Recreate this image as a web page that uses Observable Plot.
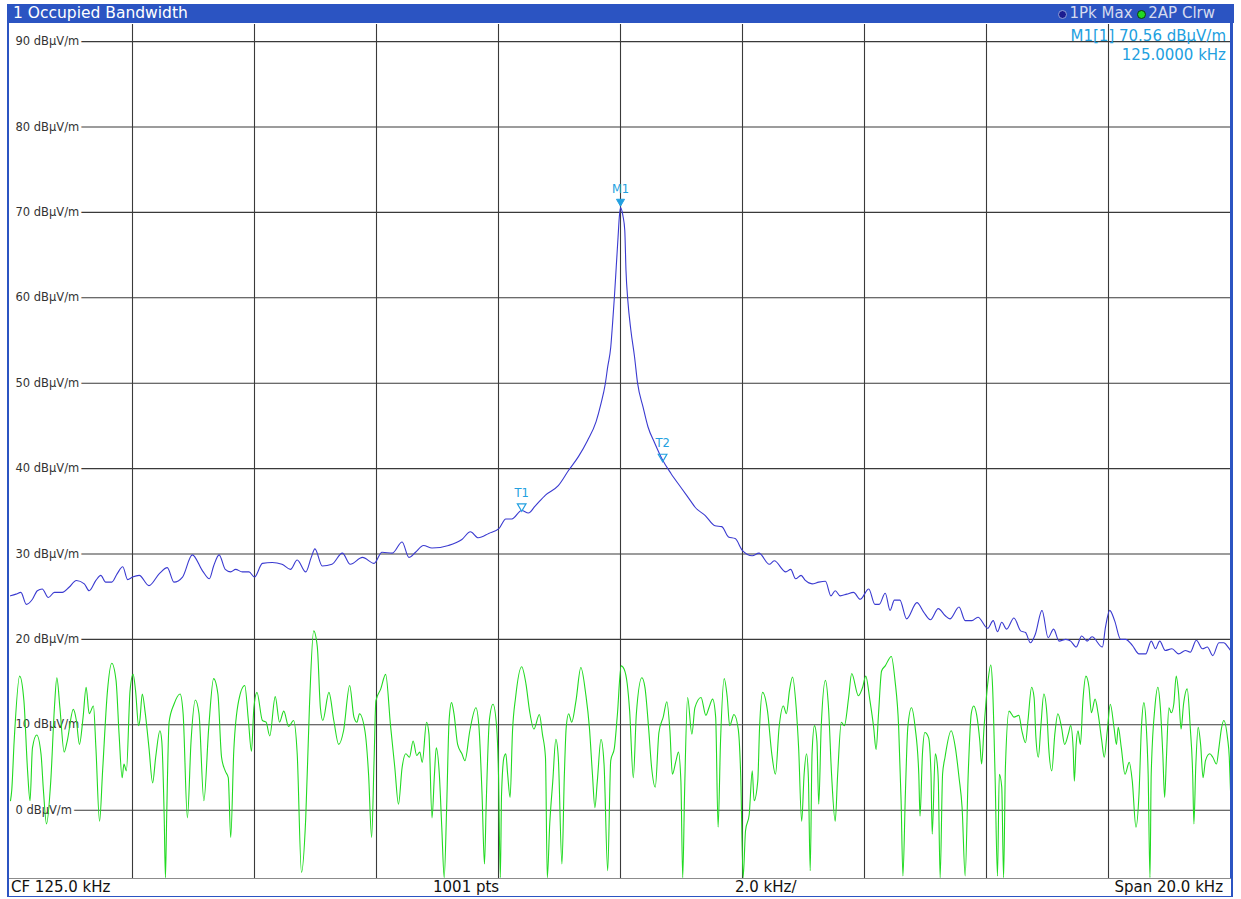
<!DOCTYPE html>
<html>
<head>
<meta charset="utf-8">
<script src="https://cdn.jsdelivr.net/npm/d3@7"></script>
<script src="https://cdn.jsdelivr.net/npm/@observablehq/plot@0.6"></script>
<style>
  html, body { margin: 0; padding: 0; background: #fff; }
  body { font-family: "DejaVu Sans", Verdana, sans-serif; }
  #page { position: relative; width: 1241px; height: 899px; overflow: hidden; background: #fff; }
  #frame { position: absolute; left: 7px; top: 4px; width: 1226px; height: 893px; box-sizing: border-box;
           border: 2px solid #2b54c2; border-right-width: 3px; }
  #titlebar { position: absolute; left: 7px; top: 4px; width: 1227px; height: 19px; background: #2b54c2; }
  #title { position: absolute; left: 6px; top: 0; line-height: 19px; font-size: 15.5px; color: #fff; white-space: nowrap; }
  #legend { position: absolute; right: 19px; top: 0; line-height: 19px; font-size: 15px; color: #d6dbef; white-space: nowrap; }
  .ldot { display: inline-block; width: 9px; height: 9px; border-radius: 50%; box-sizing: border-box; vertical-align: -1px; margin-right: 2px; }
  #plot { position: absolute; left: 10px; top: 24px; width: 1220px; height: 854px; }
  #plot svg { display: block; }
  .mk { position: absolute; right: 15px; font-size: 15px; color: #22a0e0; white-space: nowrap; line-height: 18px; }
  #bottombar { position: absolute; left: 9px; top: 878px; width: 1222px; height: 17px; border-top: 1px solid #8c8c8c; background: #fff; }
  .bt { position: absolute; top: 0; line-height: 17px; font-size: 15px; color: #111; white-space: nowrap; }
</style>
</head>
<body>
<div id="page">
  <div id="frame"></div>
  <div id="titlebar">
    <div id="title">1 Occupied Bandwidth</div>
    <div id="legend"><span class="ldot" style="background:#1c1c90;border:1px solid #8fa0d8"></span>1Pk Max <span class="ldot" style="background:#22d822;border:1px solid #0c3a0c"></span>2AP Clrw</div>
  </div>
  <div id="plot"></div>
  <div class="mk" style="top:27px">M1[1] 70.56 dBµV/m</div>
  <div class="mk" style="top:46px">125.0000 kHz</div>
  <div id="bottombar">
    <div class="bt" style="left:2px">CF 125.0 kHz</div>
    <div class="bt" style="left:424px">1001 pts</div>
    <div class="bt" style="left:726px">2.0 kHz/</div>
    <div class="bt" style="right:8px">Span 20.0 kHz</div>
  </div>
</div>
<script>
// ---- axis / grid ----
const yTicks = [0, 10, 20, 30, 40, 50, 60, 70, 80, 90];
const xGrid = [117, 119, 121, 123, 125, 127, 129, 131, 133];
const xDomain = [115, 135];
const yDomain = [-8, 92];

// ---- markers ----
const markerNames = ["M1", "T1", "T2"];
const markerFreq = [125.0, 123.38, 125.69];
const markerLevel = [70.56, 35.0, 40.8];

// ---- trace 1: Pk Max (blue), kHz / dBµV/m ----
const blueFreq = [
  115.00,115.09,115.17,115.26,115.36,115.44,115.52,115.62,115.72,115.85,115.96,116.08,116.21,116.29,116.40,116.48,
  116.56,116.66,116.75,116.84,116.92,117.00,117.11,117.27,117.44,117.57,117.68,117.82,117.98,118.15,118.26,
  118.33,118.42,118.52,118.61,118.69,118.80,118.91,119.00,119.13,119.29,119.45,119.59,119.70,119.84,119.93,119.99,
  120.11,120.27,120.44,120.57,120.77,120.96,121.09,121.26,121.42,121.53,121.64,
  121.77,121.91,122.18,122.40,122.54,122.67,122.84,123.01,123.12,123.22,123.38,123.49,123.60,123.77,123.98,124.15,124.31,
  124.46,124.60,124.68,124.75,124.79,124.84,124.87,124.90,124.93,124.96,124.98,125.00,125.04,125.07,125.09,125.12,
  125.17,125.23,125.28,125.37,125.45,125.56,125.69,125.83,126.00,126.16,
  126.22,126.39,126.55,126.66,126.77,126.88,
  127.00,127.16,127.27,127.44,127.52,127.71,127.79,127.87,127.96,
  128.03,128.14,128.25,128.36,128.45,128.52,128.60,128.71,128.82,128.93,129.07,129.17,129.24,129.34,129.42,129.49,
  129.58,129.69,129.86,129.97,130.08,130.21,130.32,130.40,130.55,130.65,130.76,130.86,131.02,131.11,131.18,131.25,131.33,
  131.45,131.56,131.64,131.72,131.80,131.91,132.01,132.10,132.19,132.30,132.38,132.47,132.56,132.65,132.73,132.90,
  132.95,133.02,133.10,133.20,133.28,133.39,133.50,133.61,133.70,133.77,133.84,133.93,134.04,134.15,134.26,134.34,
  134.44,134.54,134.62,134.71,134.81,134.89,134.96,135.00
];
const blueLevel = [
  25.1,25.3,25.5,24.1,24.7,25.7,25.9,24.9,25.5,25.5,26.1,26.9,26.5,25.7,26.9,27.5,
  26.7,26.7,27.7,28.5,27.0,27.3,27.5,26.3,27.7,28.4,26.7,27.3,29.9,28.0,27.1,
  28.6,29.9,28.2,27.9,28.2,27.9,27.9,27.3,28.9,29.0,28.8,28.2,29.3,27.9,29.6,30.6,
  28.6,28.8,30.1,28.8,29.6,28.9,30.2,30.1,31.4,29.6,30.2,
  31.0,30.7,31.0,31.7,32.6,31.9,32.4,33.0,34.1,34.1,35.1,34.8,35.6,36.9,38.0,39.8,41.4,
  43.3,45.5,47.6,49.9,51.9,54.2,57.0,60.1,63.6,67.1,69.4,70.56,69.6,67.9,63.2,59.7,
  56.2,53.1,50.0,47.2,44.9,43.0,41.0,39.4,37.7,36.1,
  35.5,34.5,33.3,33.2,32.0,31.8,
  30.4,29.8,30.1,28.8,29.2,27.9,28.2,27.1,27.5,
  26.9,26.5,26.7,26.8,25.1,25.7,25.1,25.3,25.5,24.7,25.9,24.1,24.1,25.4,23.4,24.6,
  24.6,22.4,24.3,23.2,22.3,23.6,22.8,22.4,23.8,22.2,22.2,22.6,21.3,22.2,20.9,22.0,21.2,
  22.5,21.0,20.8,19.6,20.6,23.4,20.2,21.2,19.8,20.0,19.8,19.1,20.4,19.8,20.3,19.1,
  21.4,23.4,22.2,20.0,20.0,19.3,18.3,18.3,19.8,18.9,19.8,18.7,18.9,18.3,18.7,18.5,
  19.9,18.9,19.1,18.1,19.6,19.6,19.1,18.7
];

// ---- trace 2: AP Clrw (green), kHz / dBµV/m ----
const greenFreq = [
  115.00,115.02,115.06,115.15,115.22,115.28,115.32,115.36,115.43,115.50,115.54,115.59,115.66,115.72,115.76,115.81,
  115.88,115.93,116.03,116.08,116.13,116.19,116.24,116.29,116.36,116.40,116.46,116.51,116.59,116.66,116.73,116.78,
  116.83,116.86,116.90,116.96,117.01,117.05,117.10,117.12,117.16,117.21,117.27,117.33,117.38,117.45,117.48,117.52,
  117.54,117.56,117.60,117.68,117.78,117.83,117.90,117.96,118.03,118.09,118.17,
  118.25,118.33,118.40,118.46,118.52,118.57,118.61,118.66,118.74,118.84,118.90,118.95,118.99,119.04,119.13,119.19,
  119.25,119.34,119.41,119.48,119.56,119.64,119.70,119.77,119.84,119.90,119.97,120.03,120.08,120.12,120.22,120.30,
  120.38,120.46,120.56,120.63,120.68,120.72,120.81,120.87,120.92,120.96,120.99,121.07,121.15,121.23,121.30,121.36,121.42,
  121.48,121.54,121.60,121.66,121.71,121.75,121.82,121.86,121.91,121.95,121.98,122.03,122.07,122.11,122.15,122.19,
  122.23,122.27,122.33,122.40,122.45,122.53,122.63,122.68,122.73,122.77,122.80,122.85,122.91,122.97,123.00,123.03,
  123.05,123.09,123.12,123.15,123.19,123.23,123.28,123.38,123.45,123.51,123.58,123.67,123.72,123.77,123.80,123.84,
  123.89,123.94,123.98,124.04,124.08,124.11,124.15,124.20,124.27,124.35,124.43,124.49,124.54,124.58,124.62,124.68,
  124.73,124.79,
  124.84,124.90,124.95,125.01,125.06,125.11,125.15,125.21,125.26,125.35,125.40,125.46,125.51,125.57,125.63,125.70,
  125.76,125.81,125.85,125.91,125.95,125.99,126.02,126.05,126.10,126.17,126.22,126.32,126.40,126.45,126.51,126.56,
  126.60,126.64,126.70,126.75,126.79,126.86,126.93,126.97,127.01,127.05,127.11,127.16,127.19,127.25,127.28,127.33,
  127.41,127.48,127.54,127.60,127.67,127.72,127.77,127.82,127.88,127.92,127.97,128.01,128.05,128.08,128.11,
  128.14,128.18,128.22,128.25,128.29,128.36,128.41,128.46,128.52,128.56,128.62,128.67,128.74,128.79,128.90,128.97,
  129.02,129.09,129.15,129.19,129.23,129.28,129.34,129.44,129.50,129.56,129.60,129.63,129.67,129.71,129.77,129.83,
  129.89,129.91,129.95,129.99,130.05,130.09,130.11,130.16,130.19,130.21,130.24,130.28,130.32,130.42,130.49,130.55,
  130.60,130.65,130.70,130.75,130.79,130.84,130.89,130.92,130.96,131.02,131.07,131.10,131.14,131.18,131.21,131.25,
  131.28,131.31,
  131.37,131.45,131.53,131.58,131.64,131.68,131.74,131.78,131.81,131.85,131.89,131.94,131.99,132.02,132.07,132.12,
  132.17,132.23,132.28,132.34,132.38,132.42,132.44,132.47,132.50,132.54,132.58,132.63,132.68,132.72,132.78,132.83,
  132.89,132.93,132.98,133.03,133.09,133.13,133.16,133.21,133.27,133.34,133.39,133.45,133.50,133.54,133.58,133.62,
  133.65,133.68,133.70,133.76,133.81,133.85,133.89,133.92,133.95,133.99,134.03,134.07,134.11,134.15,134.19,134.23,
  134.29,134.34,134.38,134.40,134.43,134.47,134.51,134.55,134.59,134.66,134.71,134.77,134.81,134.85,134.89,134.95,
  134.98,135.00
];
const greenLevel = [
  1.1,2.3,8.1,15.7,12.8,4.6,1.1,7.3,8.8,6.6,2.3,-1.6,3.4,12.0,15.5,12.0,
  6.8,8.1,11.8,10.5,7.7,10.9,14.4,11.3,12.2,7.3,-1.3,4.6,14.0,17.2,15.2,8.9,
  3.8,5.4,4.6,14.0,15.9,14.0,9.9,10.5,13.6,11.3,7.3,3.2,6.2,9.3,8.1,-0.9,
  -7.9,-0.9,10.3,12.4,13.6,11.3,-0.9,8.1,12.9,11.3,1.1,
  9.7,15.4,13.6,6.2,4.6,3.8,-3.2,6.9,12.8,14.6,10.5,6.9,12.0,13.8,10.5,10.3,
  8.7,13.3,10.3,11.6,9.8,10.5,6.6,-7.3,-0.9,12.0,21.0,19.1,12.0,10.5,13.8,10.5,
  7.7,9.3,14.6,10.9,10.3,11.3,9.3,4.2,-3.2,5.8,12.8,14.2,15.9,9.9,5.0,0.7,5.0,
  6.6,6.2,8.1,6.4,6.8,5.6,10.3,8.9,-0.9,4.2,7.3,4.2,-2.0,-7.9,0.3,10.5,
  12.6,11.3,7.7,6.6,5.8,9.3,12.0,9.7,1.9,-6.3,1.1,10.5,12.4,9.7,4.2,-7.9,
  1.9,6.2,6.6,4.2,1.5,9.3,13.2,16.8,14.8,11.6,9.5,11.2,8.9,6.2,-7.9,-1.6,
  3.4,8.3,6.2,-6.3,4.2,9.7,11.3,10.3,12.8,16.7,13.6,9.7,4.2,0.3,3.4,8.3,
  5.4,-7.1,
  5.8,7.3,11.3,16.9,16.5,14.8,11.6,3.8,11.3,15.5,14.4,9.7,5.0,2.7,9.1,10.9,
  12.7,9.3,4.2,5.8,6.8,3.4,-7.9,1.9,13.2,8.9,12.0,13.2,11.1,12.0,13.0,10.9,
  -2.0,8.1,15.4,13.2,9.9,11.2,9.5,4.2,-7.9,-2.4,-0.5,4.6,1.1,3.4,9.7,13.8,
  11.6,6.6,4.2,9.7,12.2,11.3,14.0,15.6,12.0,7.3,-1.3,4.2,6.6,3.8,-7.1,
  6.6,9.9,8.1,0.7,9.7,15.2,12.0,4.2,-1.3,4.2,10.3,9.9,13.2,16.0,13.4,14.4,
  15.7,12.8,9.7,7.1,11.3,16.3,16.9,18.0,15.2,9.7,1.1,-7.7,1.9,9.7,12.0,9.7,
  4.2,-0.7,6.6,9.1,8.5,4.2,-2.8,6.6,5.6,3.4,-7.9,4.2,6.2,9.3,7.3,3.8,
  0.3,-7.7,4.2,11.3,12.2,11.1,8.1,5.4,9.7,14.8,17.0,14.4,4.2,-7.7,4.2,2.7,
  -7.9,5.0,
  11.6,10.9,11.1,9.3,7.9,10.5,14.4,13.2,8.5,6.2,9.7,13.6,11.3,7.3,4.6,8.9,
  11.3,9.7,7.7,8.9,9.9,7.3,3.4,7.7,9.3,7.7,12.8,15.7,14.4,11.4,13.0,11.3,
  8.1,6.2,9.3,12.4,9.7,7.7,9.7,7.3,4.2,5.6,3.4,-2.0,1.9,9.7,12.6,9.7,
  4.2,-7.9,4.2,12.0,14.4,12.0,6.6,1.5,6.2,12.0,11.4,12.4,15.7,13.6,9.5,12.4,
  14.2,9.7,4.2,-1.6,5.0,9.7,7.7,3.8,5.8,6.6,6.2,5.4,7.3,9.5,10.5,8.5,
  6.2,2.3
];

const blue = blueFreq.map((f, i) => ({f, v: blueLevel[i]}));
const green = greenFreq.map((f, i) => ({f, v: greenLevel[i]}));
const markers = markerNames.map((name, i) => ({name, f: markerFreq[i], v: markerLevel[i]}));

const gridColor = "#3a3a3a";
const markerColor = "#22a0e0";

const chart = Plot.plot({
  width: 1220,
  height: 854,
  margin: 0,
  style: {background: "transparent", overflow: "visible"},
  x: {domain: xDomain, axis: null},
  y: {domain: yDomain, axis: null},
  marks: [
    Plot.ruleX(xGrid, {stroke: gridColor, strokeWidth: 1.1}),
    Plot.ruleY(yTicks, {stroke: gridColor, strokeWidth: 1.1, insetLeft: 6}),
    Plot.text(yTicks, {
      y: d => d, frameAnchor: "left", dx: 5, textAnchor: "start",
      text: d => `${d} dBµV/m`, fill: "#333", stroke: "#fff", strokeWidth: 6,
      fontSize: 11.5, fontFamily: "DejaVu Sans"
    }),
    Plot.line(green, {x: "f", y: "v", stroke: "#22da22", strokeWidth: 1.1, curve: "monotone-x", clip: true}),
    Plot.line(blue, {x: "f", y: "v", stroke: "#3a3ad0", strokeWidth: 1.1, curve: "monotone-x", clip: true}),
    Plot.dot(markers, {filter: d => d.name === "M1", x: "f", y: "v", symbol: "triangle", rotate: 180, r: 3, dy: -6, fill: markerColor, stroke: markerColor, strokeWidth: 1}),
    Plot.dot(markers, {filter: d => d.name !== "M1", x: "f", y: "v", symbol: "triangle", rotate: 180, r: 3.2, dy: -5, fill: "none", stroke: markerColor, strokeWidth: 1.2}),
    Plot.text(markers, {x: "f", y: "v", text: "name", dy: -18, fill: markerColor, fontSize: 11.5, fontFamily: "DejaVu Sans"})
  ]
});
document.getElementById("plot").appendChild(chart);
</script>
</body>
</html>
